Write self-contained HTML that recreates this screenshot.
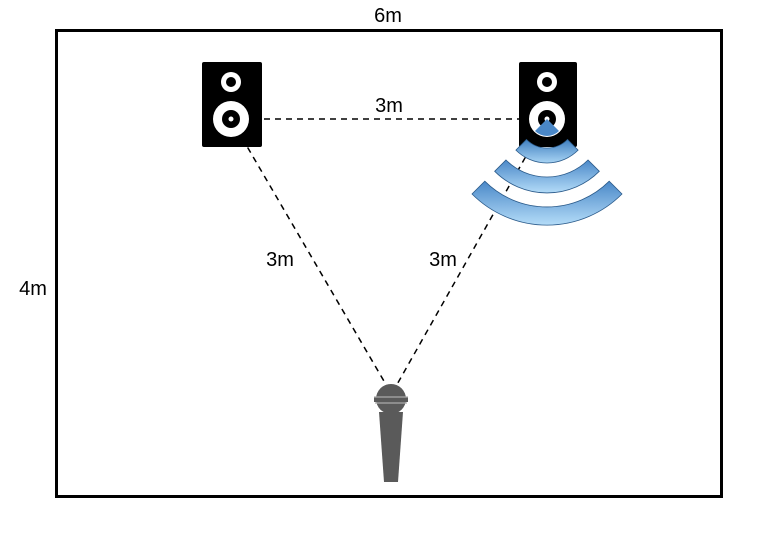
<!DOCTYPE html>
<html><head><style>body{margin:0;background:#fff}</style></head><body>
<svg width="780" height="539" xmlns="http://www.w3.org/2000/svg" font-family="Liberation Sans, sans-serif">
<defs>
<linearGradient id="g" x1="0" y1="0" x2="0" y2="1"><stop offset="0" stop-color="#3f7fc0"/><stop offset="1" stop-color="#a8d4f4"/></linearGradient>
<linearGradient id="g2" x1="0" y1="0" x2="0" y2="1"><stop offset="0" stop-color="#4a88c8"/><stop offset="1" stop-color="#b4dcf8"/></linearGradient>
</defs>
<rect x="56.5" y="30.5" width="665" height="466" fill="none" stroke="#000" stroke-width="3"/>
<text x="388" y="22" font-size="20" text-anchor="middle">6m</text>
<text x="33" y="295" font-size="20" text-anchor="middle">4m</text>
<g stroke="#000" stroke-width="1.5" stroke-dasharray="6,5" fill="none">
<line x1="231" y1="119" x2="547" y2="119"/>
<line x1="231" y1="119" x2="388" y2="388"/>
<line x1="547" y1="119" x2="395" y2="388"/>
</g>
<rect x="362" y="96" width="50" height="20" fill="#fff"/>
<text x="389" y="112" font-size="20" text-anchor="middle">3m</text>
<text x="280" y="266" font-size="20" text-anchor="middle">3m</text>
<text x="443" y="266" font-size="20" text-anchor="middle">3m</text>
<g>
<rect x="202" y="62" width="60" height="85" rx="2" fill="#000"/>
<circle cx="231" cy="82" r="10" fill="#fff"/><circle cx="231" cy="82" r="5" fill="#000"/>
<circle cx="231" cy="119" r="18" fill="#fff"/><circle cx="231" cy="119" r="9" fill="#000"/><circle cx="231" cy="119" r="2.5" fill="#fff"/>
</g>
<g>
<rect x="519" y="62" width="58" height="85" rx="2" fill="#000"/>
<circle cx="547" cy="82" r="10" fill="#fff"/><circle cx="547" cy="82" r="5" fill="#000"/>
<circle cx="547" cy="119" r="18" fill="#fff"/><circle cx="547" cy="119" r="9" fill="#000"/><circle cx="547" cy="119" r="2.5" fill="#fff"/>
<path d="M547,119 L535,131 A17,17 0 0 0 559,131 Z" fill="#4a88c8"/>
</g>
<g stroke="#2a5a8a" stroke-width="0.8">
<path d="M515.9,150.1 A44,44 0 0 0 578.1,150.1 L567.5,139.5 A29,29 0 0 1 526.5,139.5 Z" fill="url(#g)"/>
<path d="M494.7,171.3 A74,74 0 0 0 599.3,171.3 L588,160 A58,58 0 0 1 506,160 Z" fill="url(#g2)"/>
<path d="M472,194 A106,106 0 0 0 622,194 L609.2,181.2 A88,88 0 0 1 484.8,181.2 Z" fill="url(#g2)"/>
</g>
<g fill="#5a5a5a">
<circle cx="391" cy="399" r="15"/>
<rect x="374" y="397" width="34" height="5"/>
<path d="M379,412 L403,412 L398,482 L384,482 Z"/>
</g>
<line x1="374" y1="397" x2="408" y2="397" stroke="#aaa" stroke-width="1.2"/>
<line x1="375" y1="403" x2="407" y2="403" stroke="#aaa" stroke-width="1.2"/>
</svg>
</body></html>
